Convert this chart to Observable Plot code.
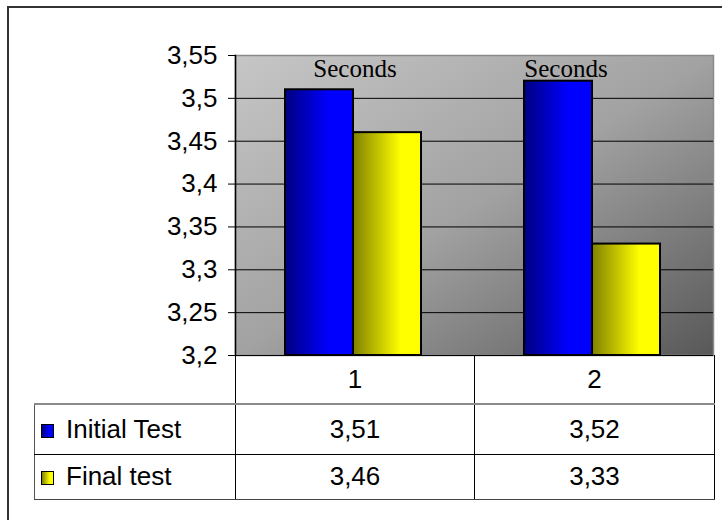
<!DOCTYPE html>
<html>
<head>
<meta charset="utf-8">
<script src="https://cdn.jsdelivr.net/npm/d3@7"></script>
<script src="https://cdn.jsdelivr.net/npm/@observablehq/plot@0.6"></script>
<style>
  html, body { margin: 0; padding: 0; background: #fff; }
  #figure {
    position: relative; width: 722px; height: 520px; overflow: hidden; background: #fff;
    font-family: "Liberation Sans", Arial, sans-serif;
  }
  #figure svg { position: absolute; left: 0; top: 0; }
  #outerBorder {
    position: absolute; left: 7px; top: 6px; width: 800px; height: 800px;
    border-top: 2px solid #333; border-left: 2px solid #333; pointer-events: none;
  }
  #dataTable {
    position: absolute; left: 34px; top: 355px; border-collapse: collapse; table-layout: fixed;
    font-size: 26px; color: #000; font-family: "Liberation Sans", Arial, sans-serif;
  }
  #dataTable td {
    padding: 0; text-align: center; vertical-align: middle;
    border-right: 1px solid #000; border-bottom: 1px solid #000;
  }
  #dataTable tr.head td { border-bottom: 2px solid #8a8a8a; }
  #dataTable tr.head td.blank { border-left: none; }
  #dataTable tr.body td.name { text-align: left; padding-left: 6px; border-left: 1px solid #555; white-space: nowrap; }
  #dataTable tr.last td { border-bottom: 1px solid #444; }
  .swatch {
    display: inline-block; width: 11px; height: 12px; border: 1px solid #000;
    margin-right: 12px; vertical-align: baseline;
  }
</style>
</head>
<body>
<div id="figure"></div>
<script>
// Timing results (in seconds) for two runs, before and after
const categories = ["1", "2"];
const seriesNames = ["Initial Test", "Final test"];
const initialTest = [3.51, 3.52];
const finalTest = [3.46, 3.33];
const yTicks = [3.2, 3.25, 3.3, 3.35, 3.4, 3.45, 3.5, 3.55];
const unitLabel = "Seconds";

const seriesValues = [initialTest, finalTest];
const seriesFills = ["url(#gradInitial)", "url(#gradFinal)"];
const swatchFills = [
  "linear-gradient(to right, #000080, #0000ff 65%)",
  "linear-gradient(to right, #808000, #ffff00 70%)"
];

const rows = seriesNames.flatMap((s, i) =>
  categories.map((c, j) => ({category: c, series: s, value: seriesValues[i][j]}))
);

// layout
const W = 722, H = 520, mTop = 55, mBottom = 165, mLeft = 235, mRight = 9;
const band = (W - mLeft - mRight) / categories.length;
const barOffset = 50, barWidth = 68;
const fmt = v => String(v).replace(".", ",");
const yBase = yTicks[0];
const serif = "Liberation Serif, Times New Roman, serif";

const chart = Plot.plot({
  width: W,
  height: H,
  marginTop: mTop,
  marginBottom: mBottom,
  marginLeft: mLeft,
  marginRight: mRight,
  style: {
    fontFamily: "Liberation Sans, Arial, sans-serif",
    fontSize: "26px",
    color: "#000",
    background: "transparent",
    overflow: "visible"
  },
  x: {domain: categories, padding: 0, axis: null},
  y: {domain: [yTicks[0], yTicks[yTicks.length - 1]]},
  marks: [
    Plot.frame({fill: "url(#plotBg)", stroke: "#8a8a8a", strokeWidth: 1.5}),
    Plot.ruleY(yTicks.slice(0, -1), {stroke: "#000", strokeWidth: 1}),
    Plot.frame({anchor: "left", stroke: "#000", strokeWidth: 1.5}),
    Plot.axisY(yTicks, {tickFormat: fmt, tickSize: 7, tickPadding: 11, label: null, stroke: "#000"}),
    ...seriesNames.map((s, i) =>
      Plot.barY(rows.filter(d => d.series === s), {
        x: "category",
        y1: () => yBase,
        y2: "value",
        fill: seriesFills[i],
        stroke: "#000",
        strokeWidth: 2,
        insetLeft: barOffset + i * barWidth,
        insetRight: band - barOffset - (i + 1) * barWidth
      })
    ),
    Plot.text([categories[0]], {
      x: d => d, frameAnchor: "top", lineAnchor: "middle", dy: 13, text: () => unitLabel,
      fontFamily: serif, fontSize: 25, fill: "#000"
    }),
    Plot.text([categories[1]], {
      x: d => d, frameAnchor: "top", lineAnchor: "middle", dy: 13, dx: -28, text: () => unitLabel,
      fontFamily: serif, fontSize: 25, fill: "#000"
    })
  ]
});

// gradients for the plot background and the bars
const defs = d3.select(chart).insert("defs", ":first-child");
function gradient(id, stops, x2, y2) {
  const g = defs.append("linearGradient").attr("id", id)
    .attr("x1", 0).attr("y1", 0).attr("x2", x2).attr("y2", y2);
  for (const [o, c] of stops) g.append("stop").attr("offset", o).attr("stop-color", c);
}
gradient("plotBg", [[0, "#c6c6c6"], [0.5, "#a2a2a2"], [1, "#585858"]], 1, 1);
gradient("gradInitial", [[0, "#000080"], [0.65, "#0000ff"], [1, "#0000ff"]], 1, 0);
gradient("gradFinal", [[0, "#808000"], [0.7, "#ffff00"], [1, "#ffff00"]], 1, 0);

const fig = document.getElementById("figure");
fig.appendChild(chart);

// data table under the plot
const table = document.createElement("table");
table.id = "dataTable";
const colWidths = [201, band, band + 1];
const cg = document.createElement("colgroup");
for (const w of colWidths) {
  const col = document.createElement("col");
  col.style.width = w + "px";
  cg.appendChild(col);
}
table.appendChild(cg);

const head = document.createElement("tr");
head.className = "head";
head.style.height = "49px";
const blank = document.createElement("td");
blank.className = "blank";
head.appendChild(blank);
for (const c of categories) {
  const td = document.createElement("td");
  td.textContent = c;
  head.appendChild(td);
}
table.appendChild(head);

seriesNames.forEach((s, i) => {
  const tr = document.createElement("tr");
  tr.className = "body" + (i === seriesNames.length - 1 ? " last" : "");
  tr.style.height = i === 0 ? "50px" : "45px";
  const name = document.createElement("td");
  name.className = "name";
  const sw = document.createElement("span");
  sw.className = "swatch";
  sw.style.background = swatchFills[i];
  name.appendChild(sw);
  name.appendChild(document.createTextNode(s));
  tr.appendChild(name);
  for (const v of seriesValues[i]) {
    const td = document.createElement("td");
    td.textContent = fmt(v);
    tr.appendChild(td);
  }
  table.appendChild(tr);
});
fig.appendChild(table);

const border = document.createElement("div");
border.id = "outerBorder";
fig.appendChild(border);
</script>
</body>
</html>
